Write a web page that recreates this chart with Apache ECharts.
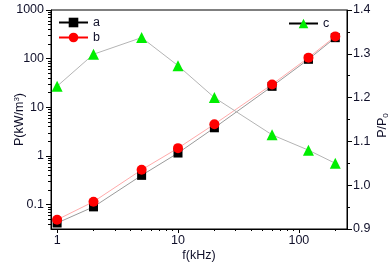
<!DOCTYPE html>
<html>
<head>
<meta charset="utf-8">
<script src="https://cdn.jsdelivr.net/npm/echarts@6/dist/echarts.min.js"></script>
<style>
  html, body { margin: 0; padding: 0; background: #fff; }
  #chart { width: 392px; height: 278px; }
</style>
</head>
<body>
<div id="chart"></div>
<script>
// frequency (kHz)
const freq = [1, 2, 5, 10, 20, 60, 120, 200];
// power loss P (kW/m^3), left log axis
const seriesA = [0.042, 0.09, 0.40, 1.15, 3.8, 27, 97, 270];
const seriesB = [0.049, 0.115, 0.52, 1.45, 4.5, 29.5, 105, 287];
// ratio P/P0, right axis
const seriesC = [1.226, 1.299, 1.337, 1.273, 1.200, 1.115, 1.080, 1.050];

const xMajor = [1, 10, 100];
const xMinor = [2, 3, 4, 5, 6, 7, 8, 9, 20, 30, 40, 50, 60, 70, 80, 90, 200];
const yMajor = [0.1, 1, 10, 100, 1000];
const yMinor = [0.04, 0.05, 0.06, 0.07, 0.08, 0.09,
  0.2, 0.3, 0.4, 0.5, 0.6, 0.7, 0.8, 0.9,
  2, 3, 4, 5, 6, 7, 8, 9,
  20, 30, 40, 50, 60, 70, 80, 90,
  200, 300, 400, 500, 600, 700, 800, 900];

const textColor = '#10102a';
const font = "'Liberation Sans', Arial, sans-serif";
const fontSize = 12.5;

const zip = (ys) => freq.map((f, i) => [f, ys[i]]);

const chart = echarts.init(document.getElementById('chart'), null, { renderer: 'canvas' });

const labelStyle = { color: textColor, fontFamily: font, fontSize: fontSize };

const option = {
  animation: false,
  textStyle: { fontFamily: font },
  grid: {
    left: 51, right: 45, top: 10, bottom: 49,
    outerBoundsMode: 'none',
    show: true, borderColor: '#000', borderWidth: 1, backgroundColor: 'transparent'
  },
  legend: [
    {
      data: [
        { name: 'a', lineStyle: { color: '#000' }, itemStyle: { color: '#000' } },
        { name: 'b', lineStyle: { color: '#ff0000' }, itemStyle: { color: '#ff0000' } }
      ],
      orient: 'vertical',
      left: 58, top: 16, padding: 0,
      itemWidth: 29, itemHeight: 12, itemGap: 2,
      textStyle: labelStyle
    },
    {
      data: [
        { name: 'c', lineStyle: { color: '#000' }, itemStyle: { color: '#00ee00' } }
      ],
      left: 288, top: 17, padding: 0,
      itemWidth: 29, itemHeight: 12,
      textStyle: labelStyle
    }
  ],
  xAxis: [
    {
      type: 'log',
      min: 0.89, max: 250,
      name: 'f(kHz)',
      nameLocation: 'middle',
      nameGap: 20,
      nameMoveOverlap: false,
      nameTextStyle: labelStyle,
      axisLine: { show: true, lineStyle: { color: '#000', width: 1 } },
      axisTick: { show: true, customValues: xMajor, length: 4, lineStyle: { color: '#000' } },
      axisLabel: { customValues: xMajor, margin: 5, ...labelStyle, formatter: (v) => String(v) },
      splitLine: { show: false }
    },
    {
      type: 'log',
      min: 0.89, max: 250,
      position: 'bottom',
      axisLine: { show: false },
      axisTick: { show: true, customValues: xMinor, length: 2, lineStyle: { color: '#000' } },
      axisLabel: { show: false },
      splitLine: { show: false }
    }
  ],
  yAxis: [
    {
      type: 'log',
      min: 0.0316, max: 1000,
      position: 'left',
      name: 'P(kW/m{sup|3})',
      nameLocation: 'middle',
      nameRotate: 90,
      nameGap: 24,
      nameMoveOverlap: false,
      nameTextStyle: {
        ...labelStyle,
        rich: { sup: { fontSize: 8, verticalAlign: 'top', color: textColor, padding: [0, 0, 6, 0] } }
      },
      axisLine: { show: true, lineStyle: { color: '#000', width: 1 } },
      axisTick: { show: true, customValues: yMajor, length: 5, lineStyle: { color: '#000' } },
      axisLabel: { customValues: yMajor, margin: 7, ...labelStyle, formatter: (v) => String(v) },
      splitLine: { show: false }
    },
    {
      type: 'log',
      min: 0.0316, max: 1000,
      position: 'left',
      axisLine: { show: false },
      axisTick: { show: true, customValues: yMinor, length: 3, lineStyle: { color: '#000' } },
      axisLabel: { show: false },
      splitLine: { show: false }
    },
    {
      type: 'value',
      min: 0.9, max: 1.4, interval: 0.1,
      position: 'right',
      name: 'P/P{sub|0}',
      nameLocation: 'middle',
      nameRotate: 90,
      nameGap: 29,
      nameMoveOverlap: false,
      nameTextStyle: {
        ...labelStyle,
        padding: [0, 12, 0, 0],
        rich: { sub: { fontSize: 8, color: textColor, padding: [6, 0, 0, 0] } }
      },
      axisLine: { show: true, lineStyle: { color: '#000', width: 1 } },
      axisTick: { show: true, length: 5, lineStyle: { color: '#000' } },
      minorTick: { show: true, splitNumber: 2, length: 3, lineStyle: { color: '#000' } },
      axisLabel: { margin: 6, ...labelStyle, formatter: (v) => v.toFixed(1) },
      splitLine: { show: false }
    }
  ],
  series: [
    {
      name: 'a', type: 'line', xAxisIndex: 0, yAxisIndex: 0,
      data: zip(seriesA),
      symbol: 'rect', symbolSize: 9,
      itemStyle: { color: '#000' },
      lineStyle: { color: '#9a9a9a', width: 1 }
    },
    {
      name: 'b', type: 'line', xAxisIndex: 0, yAxisIndex: 0,
      data: zip(seriesB),
      symbol: 'circle', symbolSize: 10,
      itemStyle: { color: '#ff0000' },
      lineStyle: { color: '#ffaaaa', width: 1 }
    },
    {
      name: 'c', type: 'line', xAxisIndex: 0, yAxisIndex: 2,
      data: zip(seriesC),
      symbol: 'triangle', symbolSize: 11,
      itemStyle: { color: '#00ee00' },
      lineStyle: { color: '#b4b4b4', width: 1 }
    }
  ]
};

chart.setOption(option);
</script>
</body>
</html>
